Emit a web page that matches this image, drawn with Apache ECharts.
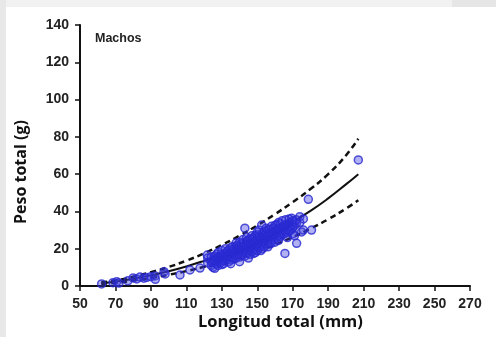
<!DOCTYPE html>
<html><head><meta charset="utf-8">
<script src="https://cdn.jsdelivr.net/npm/echarts@6/dist/echarts.min.js"></script>
<style>html,body{margin:0;padding:0;background:#fff}#c{width:496px;height:337px}</style>
</head><body><div id="c"></div>
<script>
var xTicks = [50,70,90,110,130,150,170,190,210,230,250,270];
var yTicks = [0,20,40,60,80,100,120,140];
var observed = [
[62.2,1.1],[68.6,1.8],[70.7,2.3],[72,1.6],[77,2.8],[80,4.3],[82,3.8],[83.8,4.8],[86,4.2],[87.6,4.6],[90,5],[92.3,5.4],[92.5,3.6],[97.4,7.7],[98,6.5],[106.4,5.9],[112,8.6],[117.7,9.6],[121.8,16.6],
[122,15],[122,12.5],[124,13],[124,11],[124,15.5],[125,10],[125,14],[125,12.5],[126,9.5],[126,13.5],[126,16],[127,12],[127,14.8],[127,17],
[128,11],[128,13],[128,15.5],[128,18],[129,12.5],[129,16],[129,14],[130,13],[130,15],[130,17],[130,11.5],[130,19],
[131,14],[131,16.5],[131,12],[132,15],[132,17.5],[132,13.5],[132,20],[133,14.5],[133,16],[133,18.5],
[134,13],[134,17],[134,15.5],[134,19.5],[135,16],[135,18],[135,14],[135,20.5],[135,12],
[136,15],[136,17.5],[136,19],[136,21],[137,16.5],[137,14.5],[137,18],[137,20],
[138,17],[138,19],[138,15],[138,21.5],[138,23],[139,18],[139,16],[139,20],[139,22],
[140,17.5],[140,19.5],[140,21],[140,15.5],[140,23.5],[140,13],[141,18.5],[141,20.5],[141,16.5],[141,22.5],
[142,19],[142,21],[142,17],[142,23],[142,25],[143,18],[143,20],[143,22],[143,31],[143,16],
[144,19.5],[144,21.5],[144,17.5],[144,24],[144,26],[145,20],[145,22],[145,18],[145,24.5],[145,15],
[146,21],[146,19],[146,23],[146,25.5],[146,17],[147,20.5],[147,22.5],[147,18.5],[147,25],[147,27],
[148,21.5],[148,23.5],[148,19.5],[148,26],[148,17.5],[149,22],[149,24],[149,20],[149,27],[149,18],
[150,23],[150,21],[150,25],[150,27.5],[150,19],[150,29],[151,22.5],[151,24.5],[151,20.5],[151,26.5],[151,30],
[152,23.5],[152,25.5],[152,21.5],[152.5,32.7],[152,19],[153,24],[153,22],[153,26],[153,28],[153,20],
[154,25],[154,23],[154,27],[154,29.5],[154,21],[155,24.5],[155,26.5],[155,22.5],[155,28.5],[155,31],
[156,25.5],[156,27.5],[156,23.5],[156,30],[156,21],[157,26],[157,24],[157,28],[157,30.5],[157,22.5],
[158,27],[158,25],[158,29],[158,32],[158,23],[159,26.5],[159,28.5],[159,24.7],[159,31],
[160,27.5],[160,29.5],[160,25.5],[160,32.5],[160,23.5],[161,28],[161,30],[161,26],[161,33],
[162,29],[162,27],[162,31],[162,34],[162,24.5],[163,28.5],[163,30.5],[163,26.5],[163,33.5],
[164,29.5],[164,31.5],[164,27.5],[164,35],[165,30],[165,32],[165,28],[165.6,17.5],
[166,31],[166,29],[166,33],[166,35.5],[167,30.5],[167,32.5],[167,28.5],[167,26],
[168,31.5],[168,33.5],[168,29.5],[168,36],[169.4,36.3],[169,32],[169,34],[169,30],
[170,33],[170,31],[170,35],[170,28],[171,32.5],[171,34.5],[171,27],[172.2,22.9],[172,33.5],[172,35.5],
[174,37.2],[175,29],[174,34],[176,30],[176,36],[178.8,46.5],[180.6,30],[207,67.6]
];
var fitL = [62,70,80,90,100,110,120,130,140,150,160,170,180,190,200,207];
var fitMean = [1.5,2.3,3.9,5.7,7.9,10.5,13.5,16.8,20.5,24.6,29.2,34.5,40.3,47,54.5,60];
var fitUpper = [2.0,3.0,5.0,7.4,10.2,13.6,17.5,22,27,32.5,38.5,45,52,60,70,79];
var fitLower = [1.1,1.7,2.9,4.3,6.0,8.0,10.3,12.8,15.6,18.7,22.2,26.2,30.8,35.8,41.5,46];

function pairs(ys){ return fitL.map(function(l,i){return [l, ys[i]];}); }
var FONT = 'Liberation Sans';
var chart = echarts.init(document.getElementById('c'), null, {renderer:'canvas'});
chart.setOption({
  animation:false,
  backgroundColor:'#ffffff',
  graphic:[
    {type:'rect', shape:{x:0,y:0,width:496,height:7}, style:{fill:'#f1f1f1'}, z:-10},
    {type:'rect', shape:{x:452,y:0,width:44,height:7}, style:{fill:'#e6e6e6'}, z:-9},
    {type:'rect', shape:{x:0,y:0,width:6,height:337}, style:{fill:'#e8e8e8'}, z:-9},
    {type:'text', left:95, top:32, style:{text:'Machos', font:'bold 12.5px "Liberation Sans"', fill:'#222'}},
    {type:'text', left:198, top:314, style:{text:'Longitud total (mm)', font:'bold 16.5px "Open Sans"', fill:'#111'}},
    {type:'text', x:13, y:224, rotation:Math.PI/2, style:{text:'Peso total (g)', font:'bold 16px "Open Sans"', fill:'#111'}}
  ],
  grid:{left:80, right:26, top:25, bottom:51},
  xAxis:{type:'value', min:50, max:270, interval:20,
    axisLine:{lineStyle:{color:'#111', width:2}},
    axisTick:{show:true, length:5, lineStyle:{color:'#111', width:1.5}},
    axisLabel:{color:'#222', fontFamily:FONT, fontWeight:'bold', fontSize:14, margin:11},
    splitLine:{show:false}},
  yAxis:{type:'value', min:0, max:140, interval:20,
    axisLine:{show:true, lineStyle:{color:'#111', width:2}},
    axisTick:{show:true, length:5, lineStyle:{color:'#111', width:1.5}},
    axisLabel:{color:'#222', fontFamily:FONT, fontWeight:'bold', fontSize:14, margin:11},
    splitLine:{show:false}},
  series:[
    {type:'line', data:pairs(fitUpper), smooth:true, showSymbol:false, z:2,
      lineStyle:{color:'#111', width:2.5, type:[6,4]}},
    {type:'line', data:pairs(fitLower), smooth:true, showSymbol:false, z:2,
      lineStyle:{color:'#111', width:2.5, type:[6,4]}},
    {type:'line', data:pairs(fitMean), smooth:true, showSymbol:false, z:2,
      lineStyle:{color:'#111', width:2}},
    {type:'scatter', data:observed, symbol:'circle', symbolSize:8, z:3,
      itemStyle:{color:'rgba(60,60,225,0.5)', borderColor:'#2828d0', borderWidth:1.5}}
  ]
});
</script></body></html>
